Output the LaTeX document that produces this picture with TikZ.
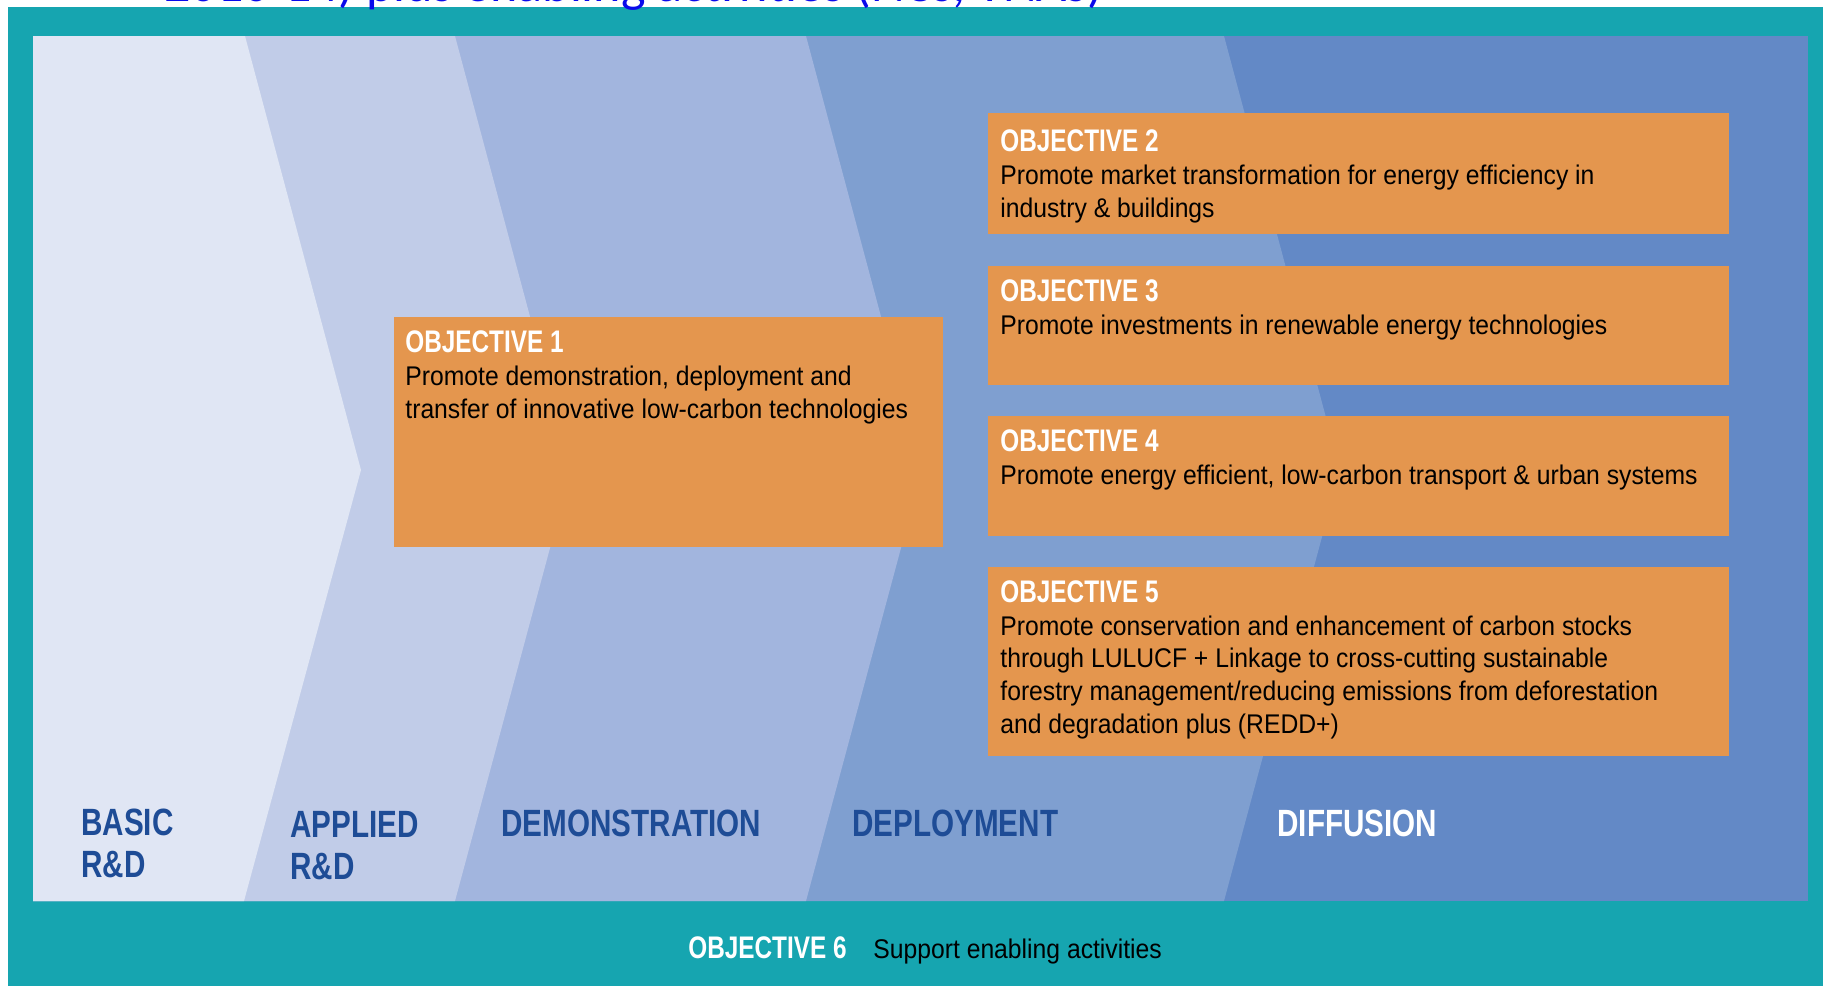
\documentclass[tikz,border=0pt]{standalone}
\usepackage{fontspec}
\setmainfont{Liberation Sans}
\newfontfamily\hdfont{Liberation Sans}[FakeStretch=0.78]
\newfontfamily\bdfont{Liberation Sans}[FakeStretch=0.915]
\newfontfamily\tpfont{Carlito}
\usetikzlibrary{fit}
\definecolor{tealbg}{RGB}{22,165,176}
\definecolor{cBasic}{RGB}{224,230,244}
\definecolor{cApplied}{RGB}{193,204,232}
\definecolor{cDemo}{RGB}{162,181,222}
\definecolor{cDeploy}{RGB}{127,159,208}
\definecolor{cDiff}{RGB}{99,137,198}
\definecolor{cOrange}{RGB}{228,150,78}
\definecolor{cLabel}{RGB}{30,76,150}
\definecolor{cTop}{RGB}{10,10,235}
\tikzset{
  objbox/.style={fill=cOrange, inner sep=0pt, draw=none},
  objtext/.style={anchor=base west, inner sep=0pt, align=left,
    font=\bdfont\fontsize{13.5}{16.3}\selectfont, text=black},
  stage/.style={anchor=base west, inner sep=0pt, align=left,
    font=\hdfont\bfseries\fontsize{19}{21}\selectfont, text=cLabel},
}
\newcommand{\objhead}[1]{{\hdfont\bfseries\fontsize{15.6}{16.3}\selectfont\color{white}#1}}
\begin{document}
\begin{tikzpicture}[x=0.5pt, y=-0.5pt]
\useasboundingbox (0,0) rectangle (1823,986);
\fill[white] (0,0) rectangle (1823,986);
\fill[tealbg] (8,7) rectangle (1823,986);
% stages
\fill[cDiff] (33,36) rectangle (1808,901);
\fill[cDeploy] (33,36) -- (1224,36) -- (1340,470) -- (1224,901) -- (33,901) -- cycle;
\fill[cDemo] (33,36) -- (806,36) -- (922,470) -- (806,901) -- (33,901) -- cycle;
\fill[cApplied] (33,36) -- (455,36) -- (571,470) -- (455,901) -- (33,901) -- cycle;
\fill[cBasic] (33,36) -- (245,36) -- (361,470) -- (244,901) -- (33,901) -- cycle;
% objective boxes
\node[objbox, fit={(394,317) (943,547)}] (o1) {};
\node[objbox, fit={(988,113) (1729,234)}] (o2) {};
\node[objbox, fit={(988,266) (1729,385)}] (o3) {};
\node[objbox, fit={(988,416) (1729,536)}] (o4) {};
\node[objbox, fit={(988,567) (1729,756)}] (o5) {};
% (base anchor = baseline of the last line)
\node[objtext] (t1) at (405,418) {\objhead{OBJECTIVE 1}\\Promote demonstration, deployment and\\transfer of innovative low-carbon technologies};
\node[objtext] (t2) at (1000,217) {\objhead{OBJECTIVE 2}\\Promote market transformation for energy efficiency in\\industry \& buildings};
\node[objtext] (t3) at (1000,334) {\objhead{OBJECTIVE 3}\\Promote investments in renewable energy technologies};
\node[objtext] (t4) at (1000,484) {\objhead{OBJECTIVE 4}\\Promote energy efficient, low-carbon transport \& urban systems};
\node[objtext] (t5) at (1000,733) {\objhead{OBJECTIVE 5}\\Promote conservation and enhancement of carbon stocks\\through LULUCF + Linkage to cross-cutting sustainable\\forestry management/reducing emissions from deforestation\\and degradation plus (REDD+)};
% stage labels
\node[stage] (basic) at (81,877) {BASIC\\R\&D};
\node[stage] (applied) at (290,879) {APPLIED\\R\&D};
\node[stage] (demo) at (501,836) {DEMONSTRATION};
\node[stage] (deploy) at (852,836) {DEPLOYMENT};
\node[stage, text=white] (diff) at (1277,836) {DIFFUSION};
% objective 6
\node[anchor=base west, inner sep=0pt, font=\hdfont\bfseries\fontsize{15.6}{16}\selectfont, text=white] (o6h) at (688,958) {OBJECTIVE 6};
\node[anchor=base west, inner sep=0pt, font=\bdfont\fontsize{13.5}{16}\selectfont, text=black] (o6t) at (873,958) {Support enabling activities};
% cut title
\begin{scope}
\clip (0,0) rectangle (1823,986);
\node[anchor=base west, inner sep=0pt, font=\tpfont\fontsize{26}{30}\selectfont, text=cTop] (top) at (164,1) {2010-14) plus enabling activities (NCs, TNAs)};
\end{scope}
\end{tikzpicture}
\end{document}
